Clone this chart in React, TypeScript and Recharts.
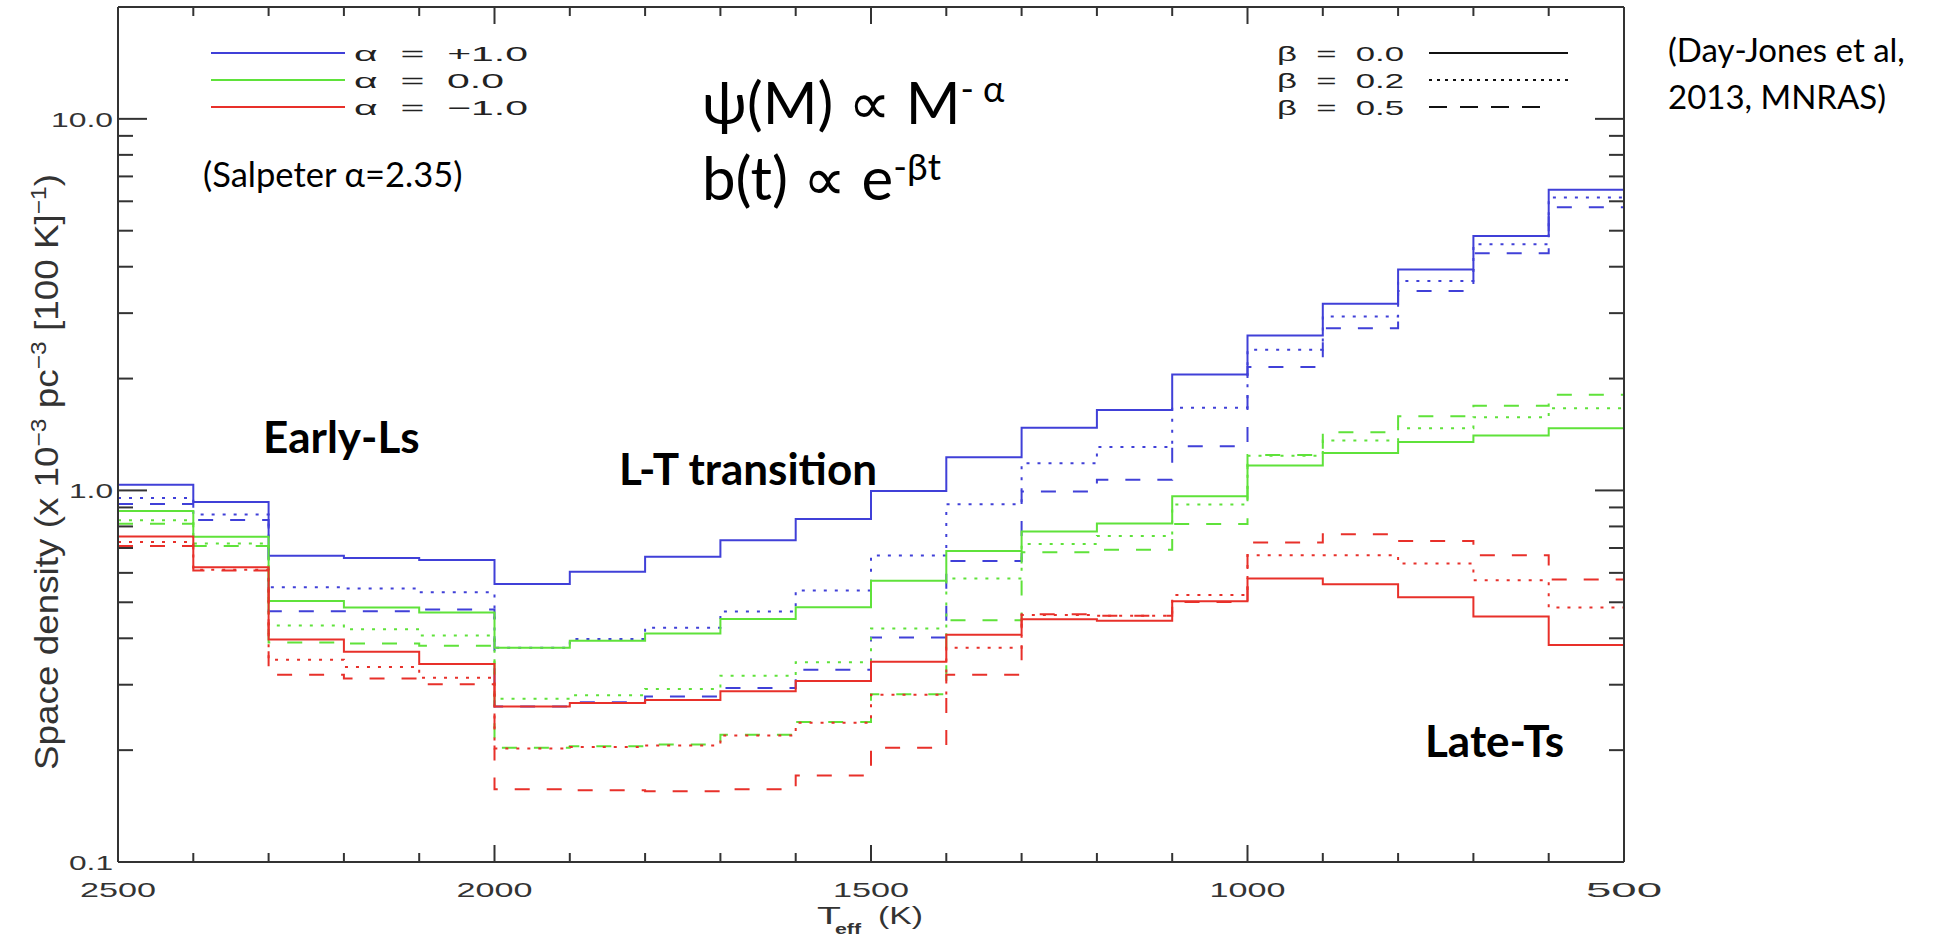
import React from "react";
import { LineChart, Line, XAxis, YAxis } from "recharts";

// bin upper edges in K; each value covers T .. T-100, the last entry is where the step ends at 500 K
const temps = [2500, 2400, 2300, 2200, 2100, 2000, 1900, 1800, 1700, 1600, 1500, 1400, 1300, 1200, 1100, 1000, 900, 800, 700, 600, 500];

// alpha = +1.0
const blueSolid = [1.036, 0.931, 0.667, 0.658, 0.65, 0.56, 0.604, 0.663, 0.734, 0.838, 0.996, 1.229, 1.474, 1.647, 2.05, 2.61, 3.18, 3.93, 4.84, 6.44, 8.4];
const blueDot = [0.954, 0.862, 0.549, 0.545, 0.532, 0.377, 0.398, 0.427, 0.472, 0.538, 0.668, 0.918, 1.184, 1.308, 1.67, 2.39, 2.94, 3.66, 4.6, 6.14, 6.14];
const blueDash = [0.919, 0.833, 0.473, 0.473, 0.478, 0.262, 0.269, 0.279, 0.294, 0.329, 0.402, 0.646, 0.994, 1.068, 1.315, 2.15, 2.73, 3.44, 4.35, 5.78, 5.78];
// alpha = 0.0
const greenSolid = [0.88, 0.75, 0.504, 0.484, 0.469, 0.377, 0.394, 0.412, 0.451, 0.485, 0.571, 0.687, 0.775, 0.815, 0.965, 1.167, 1.262, 1.349, 1.405, 1.47, 1.47];
const greenDot = [0.831, 0.72, 0.433, 0.423, 0.407, 0.275, 0.281, 0.292, 0.317, 0.345, 0.425, 0.579, 0.718, 0.754, 0.916, 1.24, 1.362, 1.47, 1.574, 1.664, 1.664];
const greenDash = [0.814, 0.709, 0.39, 0.387, 0.382, 0.203, 0.205, 0.207, 0.22, 0.238, 0.283, 0.447, 0.682, 0.692, 0.812, 1.245, 1.434, 1.584, 1.69, 1.81, 1.875];
// alpha = -1.0
const redSolid = [0.752, 0.621, 0.397, 0.368, 0.341, 0.262, 0.268, 0.273, 0.288, 0.307, 0.346, 0.409, 0.45, 0.446, 0.503, 0.579, 0.559, 0.516, 0.458, 0.384, 0.285];
const redDot = [0.727, 0.612, 0.35, 0.335, 0.313, 0.202, 0.204, 0.206, 0.219, 0.237, 0.282, 0.377, 0.462, 0.46, 0.523, 0.669, 0.669, 0.636, 0.573, 0.484, 0.484];
const redDash = [0.709, 0.609, 0.319, 0.312, 0.301, 0.157, 0.156, 0.155, 0.157, 0.171, 0.203, 0.319, 0.464, 0.46, 0.501, 0.724, 0.762, 0.731, 0.669, 0.576, 0.576];

const yTicks = [0.1, 0.2, 0.3, 0.4, 0.5, 0.6, 0.7, 0.8, 0.9, 1, 2, 3, 4, 5, 6, 7, 8, 9, 10];

const BLUE = "#4040d8";
const GREEN = "#5fe23a";
const RED = "#e8302a";
const AXIS = "#333";
const DOT = "3 8";
const DASH = "15 17";
const TICK_FONT = "'Liberation Sans', Arial, sans-serif";
const NOTE_FONT = "Lato, 'Noto Sans', 'DejaVu Sans', sans-serif";

const series = [
  { key: "blueSolid", color: BLUE, dash: undefined },
  { key: "blueDot", color: BLUE, dash: DOT },
  { key: "blueDash", color: BLUE, dash: DASH },
  { key: "greenSolid", color: GREEN, dash: undefined },
  { key: "greenDot", color: GREEN, dash: DOT },
  { key: "greenDash", color: GREEN, dash: DASH },
  { key: "redSolid", color: RED, dash: undefined },
  { key: "redDot", color: RED, dash: DOT },
  { key: "redDash", color: RED, dash: DASH },
];

const rows = temps.map((t, i) => ({
  t,
  blueSolid: blueSolid[i], blueDot: blueDot[i], blueDash: blueDash[i],
  greenSolid: greenSolid[i], greenDot: greenDot[i], greenDash: greenDash[i],
  redSolid: redSolid[i], redDot: redDot[i], redDash: redDash[i],
}));

const isDecade = (v: number) => {
  const l = Math.log10(v);
  return Math.abs(l - Math.round(l)) < 1e-6;
};
const yLabel = (v: number) => (v >= 10 ? "10.0" : v >= 1 ? "1.0" : "0.1");

function BottomTick({ x, y, payload }: any) {
  const major = payload.value % 500 === 0;
  return (
    <g>
      <line x1={x} x2={x} y1={y} y2={y - (major ? 17 : 9)} stroke={AXIS} strokeWidth={2} />
      {major && (
        <text x={x} y={y + 35} textAnchor="middle" fontFamily={TICK_FONT} fontSize={21} fill={AXIS}
          textLength={76} lengthAdjust="spacingAndGlyphs">{payload.value}</text>
      )}
    </g>
  );
}

function TopTick({ x, y, payload }: any) {
  const major = payload.value % 500 === 0;
  return <line x1={x} x2={x} y1={y} y2={y + (major ? 17 : 9)} stroke={AXIS} strokeWidth={2} />;
}

function LeftTick({ x, y, payload }: any) {
  const major = isDecade(payload.value);
  const label = yLabel(payload.value);
  return (
    <g>
      <line x1={x} x2={x + (major ? 29 : 15)} y1={y} y2={y} stroke={AXIS} strokeWidth={2} />
      {major && (
        <text x={x - 5} y={y + 8} textAnchor="end" fontFamily={TICK_FONT} fontSize={21} fill={AXIS}
          textLength={label.length === 4 ? 62 : 44} lengthAdjust="spacingAndGlyphs">{label}</text>
      )}
    </g>
  );
}

function RightTick({ x, y, payload }: any) {
  const major = isDecade(payload.value);
  return <line x1={x} x2={x - (major ? 29 : 15)} y1={y} y2={y} stroke={AXIS} strokeWidth={2} />;
}

const alphaRows = [
  { label: "α  =  +1.0", color: BLUE, y: 53, len: 174 },
  { label: "α  =  0.0", color: GREEN, y: 80, len: 150 },
  { label: "α  =  −1.0", color: RED, y: 107, len: 174 },
];
const betaRows = [
  { label: "β  =  0.0", dash: undefined, y: 53, end: 1568 },
  { label: "β  =  0.2", dash: "3 5", y: 80, end: 1568 },
  { label: "β  =  0.5", dash: "18 13", y: 107, end: 1551 },
];

function Notes() {
  const legendText = { fontFamily: TICK_FONT, fontSize: 21, fill: "#222", style: { whiteSpace: "pre" as const } };
  return (
    <svg width={1947} height={937} style={{ position: "absolute", left: 0, top: 0, pointerEvents: "none" }}>
      {alphaRows.map((r) => (
        <g key={r.label}>
          <line x1={211} x2={345} y1={r.y} y2={r.y} stroke={r.color} strokeWidth={2} />
          <text x={354} y={r.y + 8} {...legendText} textLength={r.len} lengthAdjust="spacingAndGlyphs">{r.label}</text>
        </g>
      ))}
      {betaRows.map((r) => (
        <g key={r.label}>
          <text x={1277} y={r.y + 8} {...legendText} textLength={127} lengthAdjust="spacingAndGlyphs">{r.label}</text>
          <line x1={1429} x2={r.end} y1={r.y} y2={r.y} stroke="#111" strokeWidth={2} strokeDasharray={r.dash} />
        </g>
      ))}

      <text x={702} y={124} fontFamily={NOTE_FONT} fontSize={59} fill="#000">
        ψ(M) ∝ M<tspan dy={-22} fontSize={36}>- α</tspan>
      </text>
      <text x={702} y={200} fontFamily={NOTE_FONT} fontSize={60} fill="#000">
        b(t) ∝ e<tspan dy={-20} fontSize={37}>-βt</tspan>
      </text>
      <text x={203} y={187} fontFamily={NOTE_FONT} fontSize={34.5} fill="#000">(Salpeter α=2.35)</text>
      <text x={1668} y={62} fontFamily={NOTE_FONT} fontSize={33} fill="#000">(Day-Jones et al,</text>
      <text x={1668} y={109} fontFamily={NOTE_FONT} fontSize={33} fill="#000">2013, MNRAS)</text>

      <text x={263} y={453} fontFamily={NOTE_FONT} fontWeight="bold" fontSize={44} fill="#000">Early-Ls</text>
      <text x={619} y={485} fontFamily={NOTE_FONT} fontWeight="bold" fontSize={44} fill="#000">L-T transition</text>
      <text x={1425} y={757} fontFamily={NOTE_FONT} fontWeight="bold" fontSize={44} fill="#000">Late-Ts</text>

      <text transform="translate(58,472) scale(1.2,1) rotate(-90)" textAnchor="middle" fontFamily={TICK_FONT} fontSize={27} fill={AXIS}
        textLength={596} lengthAdjust="spacingAndGlyphs">
        Space density (x 10<tspan dy={-10} fontSize={18}>−3</tspan><tspan dy={10}> pc</tspan><tspan dy={-10} fontSize={18}>−3</tspan><tspan dy={10}> [100 K]</tspan><tspan dy={-10} fontSize={18}>−1</tspan><tspan dy={10}>)</tspan>
      </text>

      <text x={817} y={924} fontFamily={TICK_FONT} fontSize={23} fill={AXIS} textLength={24} lengthAdjust="spacingAndGlyphs">T</text>
      <text x={835} y={934} fontFamily={TICK_FONT} fontWeight="bold" fontSize={14} fill={AXIS} textLength={26} lengthAdjust="spacingAndGlyphs">eff</text>
      <text x={878} y={924} fontFamily={TICK_FONT} fontSize={23} fill={AXIS} textLength={45} lengthAdjust="spacingAndGlyphs">(K)</text>
    </svg>
  );
}

export default function App() {
  return (
    <div style={{ position: "relative", width: 1947, height: 937, background: "#fff", overflow: "hidden" }}>
      <style>{"html,body{margin:0;padding:0;overflow:hidden;background:#fff}"}</style>
      <LineChart width={1947} height={937} data={rows} margin={{ top: 6, right: 263, bottom: 45, left: 58 }}>
        <XAxis xAxisId="bottom" dataKey="t" type="number" domain={[500, 2500]} reversed
          ticks={temps} interval={0} height={30} tickSize={0} tickMargin={0}
          axisLine={{ stroke: AXIS, strokeWidth: 2 }} tickLine={false} tick={<BottomTick />} />
        <XAxis xAxisId="top" orientation="top" dataKey="t" type="number" domain={[500, 2500]} reversed
          ticks={temps} interval={0} height={1} tickSize={0} tickMargin={0}
          axisLine={{ stroke: AXIS, strokeWidth: 2 }} tickLine={false} tick={<TopTick />} />
        <YAxis yAxisId="left" type="number" scale="log" domain={[0.1, 20]}
          ticks={yTicks} interval={0} width={60} tickSize={0} tickMargin={0}
          axisLine={{ stroke: AXIS, strokeWidth: 2 }} tickLine={false} tick={<LeftTick />} />
        <YAxis yAxisId="right" orientation="right" type="number" scale="log" domain={[0.1, 20]}
          ticks={yTicks} interval={0} width={60} tickSize={0} tickMargin={0}
          axisLine={{ stroke: AXIS, strokeWidth: 2 }} tickLine={false} tick={<RightTick />} />
        {series.map((s) => (
          <Line key={s.key} xAxisId="bottom" yAxisId="left" type="stepAfter" dataKey={s.key}
            stroke={s.color} strokeWidth={2} strokeDasharray={s.dash} dot={false} activeDot={false}
            isAnimationActive={false} />
        ))}
        <Line xAxisId="top" yAxisId="right" type="stepAfter" dataKey="blueSolid" stroke="none"
          dot={false} activeDot={false} isAnimationActive={false} legendType="none" />
      </LineChart>
      <Notes />
    </div>
  );
}
